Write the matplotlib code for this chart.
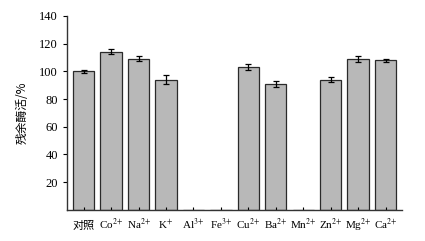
import matplotlib
matplotlib.use('Agg')
import matplotlib.pyplot as plt
import numpy as np

plt.rcParams['font.family'] = ['Liberation Serif', 'Noto Sans CJK SC']
plt.rcParams['mathtext.fontset'] = 'stix'

# data
categories = ['对照', r'Co$^{2{+}}$', r'Na$^{2{+}}$', r'K$^{{+}}$', r'Al$^{3{+}}$', r'Fe$^{3{+}}$',
              r'Cu$^{2{+}}$', r'Ba$^{2{+}}$', r'Mn$^{2{+}}$', r'Zn$^{2{+}}$', r'Mg$^{2{+}}$', r'Ca$^{2{+}}$']
values = [100, 114, 109, 94, 0, 0, 103, 91, 0, 94, 109, 108]
errors = [1, 1.8, 1.8, 3, 0, 0, 2, 2, 0, 2, 2, 1]
y_ticks = [20, 40, 60, 80, 100, 120, 140]

fig = plt.figure(figsize=(4.25, 2.41), dpi=100)
ax = fig.add_axes([0.158, 0.129, 0.788, 0.805])

x = np.arange(len(categories))
ax.bar(x, values, width=0.78, color='#b8b8b8', edgecolor='#2a2a2a', linewidth=0.9)
for xi, v, e in zip(x, values, errors):
    if v > 0:
        ax.errorbar(xi, v, yerr=e, color='black', capsize=2.5, elinewidth=0.9, capthick=0.9)

ax.set_xlim(-0.6, len(categories) - 0.4)
ax.set_ylim(0, 140)
ax.set_yticks(y_ticks)
ax.set_xticks(x, categories)

ax.tick_params(axis='y', direction='out', length=3, labelsize=9, width=0.8)
ax.tick_params(axis='x', direction='in', length=2, labelsize=8, width=0.8, pad=14)
# keep all x labels on one baseline
for lbl in ax.get_xticklabels():
    lbl.set_verticalalignment('baseline')

ax.set_ylabel('残余酶活/%', family=['Noto Sans CJK SC'], fontsize=8.5, labelpad=8)

for spine in ['top', 'right']:
    ax.spines[spine].set_visible(False)
for spine in ['left', 'bottom']:
    ax.spines[spine].set_linewidth(1.0)
    ax.spines[spine].set_color('#333333')

fig.savefig('out.png', dpi=100)
